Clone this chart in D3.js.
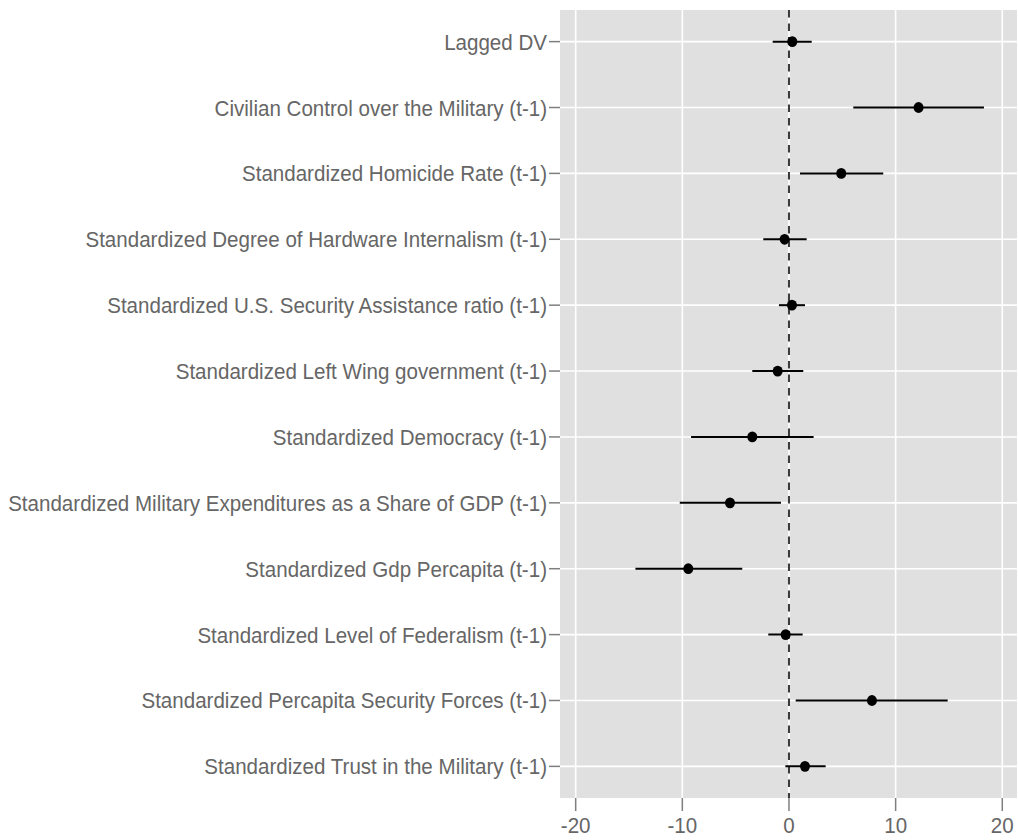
<!DOCTYPE html>
<html>
<head>
<meta charset="utf-8">
<script src="https://cdn.jsdelivr.net/npm/d3@7"></script>
<style>
  body { margin: 0; background: #fff; }
  svg { display: block; }
</style>
</head>
<body>
<script>
// Data
const terms = [
  'Lagged DV',
  'Civilian Control over the Military (t-1)',
  'Standardized Homicide Rate (t-1)',
  'Standardized Degree of Hardware Internalism (t-1)',
  'Standardized U.S. Security Assistance ratio (t-1)',
  'Standardized Left Wing government (t-1)',
  'Standardized Democracy (t-1)',
  'Standardized Military Expenditures as a Share of GDP (t-1)',
  'Standardized Gdp Percapita (t-1)',
  'Standardized Level of Federalism (t-1)',
  'Standardized Percapita Security Forces (t-1)',
  'Standardized Trust in the Military (t-1)'
]
const estimates = [0.31, 12.15, 4.9, -0.41, 0.28, -1.06, -3.44, -5.53, -9.44, -0.31, 7.78, 1.5]
const lower = [-1.53, 6.03, 1.03, -2.41, -0.94, -3.44, -9.18, -10.24, -14.4, -1.94, 0.63, -0.34]
const upper = [2.13, 18.28, 8.84, 1.66, 1.5, 1.34, 2.31, -0.75, -4.38, 1.28, 14.88, 3.44]
const xTicks = [-20, -10, 0, 10, 20]

const width = 1018
const height = 840
const panel = { left: 560, right: 1017, top: 10, bottom: 798 }
const textColor = '#666'
const tickColor = '#7f7f7f'
const fontSize = 22
const squeeze = 0.935 // reference glyphs are narrower than Liberation Sans

const rows = terms.map((t, i) => ({ term: t, est: estimates[i], lo: lower[i], hi: upper[i] }))

const x = d3.scaleLinear()
  .domain([-21.47, 21.38])
  .range([panel.left, panel.right])

const y = d3.scalePoint()
  .domain(terms)
  .range([panel.top, panel.bottom])
  .padding(0.48)

const svg = d3.select('body').append('svg')
  .attr('width', width)
  .attr('height', height)
  .style('font-family', '"Liberation Sans", Arial, Helvetica, sans-serif')

// Panel background
svg.append('rect')
  .attr('x', panel.left)
  .attr('y', panel.top)
  .attr('width', panel.right - panel.left)
  .attr('height', panel.bottom - panel.top)
  .attr('fill', '#e0e0e0')

// Grid lines
svg.append('g').selectAll('line')
  .data(xTicks)
  .join('line')
  .attr('x1', d => x(d)).attr('x2', d => x(d))
  .attr('y1', panel.top).attr('y2', panel.bottom)
  .attr('stroke', '#fff')
  .attr('stroke-width', 1.6)

svg.append('g').selectAll('line')
  .data(terms)
  .join('line')
  .attr('x1', panel.left).attr('x2', panel.right)
  .attr('y1', d => y(d)).attr('y2', d => y(d))
  .attr('stroke', '#fff')
  .attr('stroke-width', 1.6)

// Zero reference line
svg.append('line')
  .attr('x1', x(0)).attr('x2', x(0))
  .attr('y1', panel.top).attr('y2', panel.bottom)
  .attr('stroke', '#3a3a3a')
  .attr('stroke-width', 2)
  .attr('stroke-dasharray', '7.5,6')

// Error bars
svg.append('g').selectAll('line')
  .data(rows)
  .join('line')
  .attr('x1', d => x(d.lo)).attr('x2', d => x(d.hi))
  .attr('y1', d => y(d.term)).attr('y2', d => y(d.term))
  .attr('stroke', '#000')
  .attr('stroke-width', 2)

// Points
svg.append('g').selectAll('ellipse')
  .data(rows)
  .join('ellipse')
  .attr('cx', d => x(d.est))
  .attr('cy', d => y(d.term))
  .attr('rx', 5)
  .attr('ry', 5.4)
  .attr('fill', '#000')

// Y axis: ticks and labels
const yAxis = svg.append('g')
yAxis.selectAll('line')
  .data(terms)
  .join('line')
  .attr('x1', panel.left - 11).attr('x2', panel.left)
  .attr('y1', d => y(d)).attr('y2', d => y(d))
  .attr('stroke', tickColor)
  .attr('stroke-width', 1.5)

yAxis.selectAll('text')
  .data(terms)
  .join('text')
  .attr('transform', d => `translate(${panel.left - 13}, ${y(d) + 8}) scale(${squeeze}, 1)`)
  .attr('text-anchor', 'end')
  .attr('fill', textColor)
  .style('font-size', fontSize + 'px')
  .text(d => d)

// X axis: ticks and labels
const xAxis = svg.append('g')
xAxis.selectAll('line')
  .data(xTicks)
  .join('line')
  .attr('x1', d => x(d)).attr('x2', d => x(d))
  .attr('y1', panel.bottom).attr('y2', panel.bottom + 13)
  .attr('stroke', tickColor)
  .attr('stroke-width', 1.5)

xAxis.selectAll('text')
  .data(xTicks)
  .join('text')
  .attr('transform', d => `translate(${x(d)}, ${panel.bottom + 35}) scale(${squeeze}, 1)`)
  .attr('text-anchor', 'middle')
  .attr('fill', textColor)
  .style('font-size', fontSize + 'px')
  .text(d => d)
</script>
</body>
</html>
